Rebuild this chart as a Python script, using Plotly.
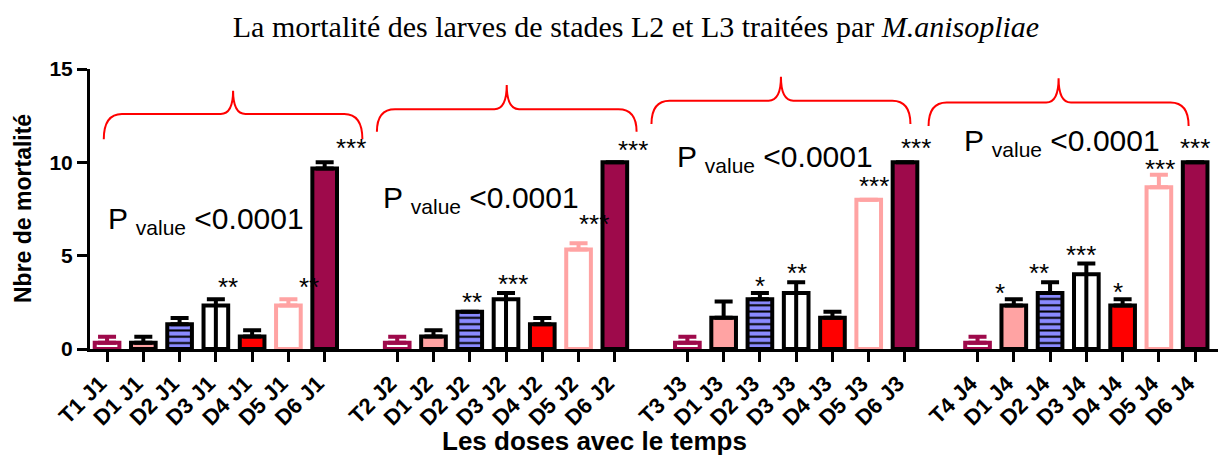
import plotly.graph_objects as go

# ---------------- data ----------------
groups = ["J1", "J2", "J3", "J4"]
doses = ["T", "D1", "D2", "D3", "D4", "D5", "D6"]

mean_T = [0.33, 0.33, 0.33, 0.33]
mean_D1 = [0.33, 0.67, 1.67, 2.33]
mean_D2 = [1.33, 2.00, 2.67, 3.00]
mean_D3 = [2.33, 2.67, 3.00, 4.00]
mean_D4 = [0.67, 1.33, 1.67, 2.33]
mean_D5 = [2.33, 5.33, 8.00, 8.67]
mean_D6 = [9.67, 10.00, 10.00, 10.00]

err_T = [0.33, 0.33, 0.33, 0.33]
err_D1 = [0.33, 0.33, 0.88, 0.33]
err_D2 = [0.33, 0.00, 0.33, 0.58]
err_D3 = [0.33, 0.33, 0.58, 0.58]
err_D4 = [0.33, 0.33, 0.33, 0.33]
err_D5 = [0.33, 0.33, 0.00, 0.67]
err_D6 = [0.33, 0.00, 0.00, 0.00]

# significance marks: (group index, dose, text, x offset, y of mark)
stars = [
    (0, "D3", "**", 0.34, 3.64), (0, "D5", "**", 0.57, 3.64), (0, "D6", "***", 0.72, 11.1),
    (1, "D2", "**", 0.05, 2.84), (1, "D3", "***", 0.19, 3.79), (1, "D5", "***", 0.42, 7.0),
    (1, "D6", "***", 0.49, 10.96),
    (2, "D2", "*", 0.0, 3.7), (2, "D3", "**", 0.02, 4.38), (2, "D5", "***", 0.15, 9.05),
    (2, "D6", "***", 0.30, 11.1),
    (3, "D1", "*", -0.38, 3.34), (3, "D2", "**", -0.31, 4.38), (3, "D3", "***", -0.15, 5.36),
    (3, "D4", "*", -0.13, 3.37), (3, "D5", "***", 0.04, 9.95), (3, "D6", "***", 0.0, 11.1),
]

pvalue_text = "P <sub>value</sub> &lt;0.0001"
pvalue_x = [-0.03, 7.55, 15.67, 23.57]
pvalue_y = [6.88, 8.0, 10.23, 11.07]

brace_x0 = [-0.09, 7.44, 15.01, 22.65]
brace_x1 = [7.04, 14.60, 22.15, 29.82]
brace_yend = [11.23, 11.64, 12.05, 11.94]
brace_yh = [12.59, 12.85, 13.30, 13.20]
brace_ypk = [13.83, 14.14, 14.58, 14.50]

means = {"T": mean_T, "D1": mean_D1, "D2": mean_D2, "D3": mean_D3,
         "D4": mean_D4, "D5": mean_D5, "D6": mean_D6}
errs = {"T": err_T, "D1": err_D1, "D2": err_D2, "D3": err_D3,
        "D4": err_D4, "D5": err_D5, "D6": err_D6}

# ---------------- styles ----------------
MAROON = "#9E0A4B"
PINK = "#FFA3A3"
BLUE = "#8A8AFF"
RED = "#FF0000"
styles = {
    "T": dict(fill="white", line=MAROON, err=MAROON, pattern=None),
    "D1": dict(fill=PINK, line="black", err="black", pattern=None),
    "D2": dict(fill=BLUE, line="black", err="black", pattern="-"),
    "D3": dict(fill="white", line="black", err="black", pattern=None),
    "D4": dict(fill=RED, line="black", err="black", pattern=None),
    "D5": dict(fill="white", line=PINK, err=PINK, pattern=None),
    "D6": dict(fill=MAROON, line="black", err="black", pattern=None),
}

slots_per_group = len(doses) + 1


def slot(g, d):
    return g * slots_per_group + doses.index(d)


def tick_label(g, d):
    if d == "T":
        return f"T{g + 1} {groups[g]}"
    return f"{d} {groups[g]}"


FONT = "Arial, Liberation Sans, sans-serif"
W, H = 1218, 455
ML, MR, MT, MB = 90, 0, 69, 106
PW = W - ML - MR
PH = H - MT - MB


def px_to_paper_x(px):
    return (px - ML) / PW


def px_to_paper_y(py):
    return (H - MB - py) / PH


fig = go.Figure()

for d in doses:
    st = styles[d]
    xs = [slot(g, d) for g in range(len(groups))]
    marker = dict(color=st["fill"], line=dict(color=st["line"], width=4))
    if st["pattern"]:
        marker["pattern"] = dict(shape=st["pattern"], fgcolor="black", bgcolor=st["fill"],
                                 size=6.3, solidity=0.32, fillmode="replace")
    if d == "D3":
        err_minus = means[d]
    else:
        err_minus = [0] * len(groups)
    fig.add_trace(go.Bar(
        x=xs, y=means[d], width=0.68, marker=marker, name=d,
        error_y=dict(type="data", array=errs[d], arrayminus=err_minus, symmetric=False,
                     color=st["err"], thickness=4, width=9),
        showlegend=False,
    ))

tickvals = []
ticktext = []
for g in range(len(groups)):
    for d in doses:
        tickvals.append(slot(g, d))
        ticktext.append(tick_label(g, d))

annotations = []
for g, d, txt, dx, yv in stars:
    annotations.append(dict(x=slot(g, d) + dx, y=yv, xref="x", yref="y", text=txt,
                            showarrow=False, font=dict(family=FONT, size=26, color="black"),
                            xanchor="center", yanchor="middle", yshift=-6))

for g in range(len(groups)):
    annotations.append(dict(x=pvalue_x[g], y=pvalue_y[g], xref="x", yref="y", text=pvalue_text,
                            showarrow=False, font=dict(family=FONT, size=30, color="black"),
                            xanchor="left", yanchor="middle"))

annotations.append(dict(x=px_to_paper_x(23), y=px_to_paper_y(209), xref="paper", yref="paper",
                        text="<b>Nbre de mortalité</b>", textangle=-90, showarrow=False,
                        font=dict(family=FONT, size=23, color="black"),
                        xanchor="center", yanchor="middle"))

annotations.append(dict(x=px_to_paper_x(594), y=px_to_paper_y(441), xref="paper", yref="paper",
                        text="<b>Les doses avec le temps</b>", showarrow=False,
                        font=dict(family=FONT, size=26, color="black"),
                        xanchor="center", yanchor="middle"))

shapes = []
for g in range(len(groups)):
    x0, x1 = brace_x0[g], brace_x1[g]
    xc = (x0 + x1) / 2
    ye, yh, yp = brace_yend[g], brace_yh[g], brace_ypk[g]
    r = 0.5
    r2 = 0.34
    path = (f"M {x0},{ye} Q {x0},{yh} {x0 + r},{yh} L {xc - r2},{yh} "
            f"Q {xc},{yh} {xc},{yp} Q {xc},{yh} {xc + r2},{yh} "
            f"L {x1 - r},{yh} Q {x1},{yh} {x1},{ye}")
    shapes.append(dict(type="path", path=path, xref="x", yref="y",
                       line=dict(color="red", width=2)))

fig.update_layout(
    width=W, height=H,
    margin=dict(l=ML, r=MR, t=MT, b=MB),
    plot_bgcolor="white", paper_bgcolor="white",
    barmode="overlay",
    title=dict(text="La mortalité des larves de stades L2 et L3 traitées par <i>M.anisopliae</i>",
               x=636 / W, xref="container", xanchor="center", y=1 - 26 / H, yref="container",
               yanchor="middle",
               font=dict(family="Liberation Serif, Times New Roman, serif", size=30, color="black")),
    xaxis=dict(range=[-0.47, 30.63], tickmode="array", tickvals=tickvals, ticktext=ticktext,
               tickangle=-45, showline=True, linecolor="black", linewidth=3,
               ticks="outside", ticklen=10, tickwidth=3, tickcolor="black",
               ticklabelshift=-7,
               showgrid=False, zeroline=False,
               tickfont=dict(family=FONT, size=22, color="black", weight="bold")),
    yaxis=dict(range=[0, 15], tickvals=[0, 5, 10, 15], showline=True, linecolor="black",
               linewidth=3, ticks="outside", ticklen=10, tickwidth=3, tickcolor="black",
               showgrid=False, zeroline=False,
               tickfont=dict(family=FONT, size=21, color="black", weight="bold")),
    annotations=annotations,
    shapes=shapes,
)

fig.write_html("out.html")
